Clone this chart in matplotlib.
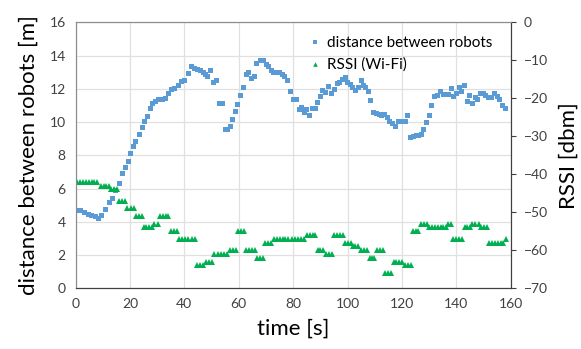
import matplotlib
matplotlib.use("Agg")
import matplotlib.pyplot as plt

plt.rcParams["font.family"] = ["Lato", "DejaVu Sans"]

# distance between robots [m] vs time [s]
t_dist = [0.2, 1.7, 3.0, 4.5, 5.7, 7.0, 8.2, 9.4, 11.0, 12.2, 13.4, 14.6, 15.9, 17.0, 18.3, 19.3,
          20.2, 21.2, 22.0, 23.2, 24.4, 25.3, 26.3, 27.3, 28.2, 29.3, 30.5, 31.7, 32.9, 33.9, 35.1,
          36.3, 37.5, 38.7, 40.0, 41.3, 42.5, 43.7, 44.7, 45.6, 46.8, 47.7, 48.4, 49.6, 50.5, 51.7,
          52.6, 53.8, 54.9, 55.8, 56.8, 57.5, 58.5, 59.5, 60.5, 61.5, 62.5, 63.5, 64.4, 65.7, 66.4,
          67.7, 68.9, 69.9, 70.9, 71.9, 72.6, 73.6, 74.8, 75.8, 76.8, 77.8, 79.0, 79.8, 81.0, 82.0,
          82.9, 83.9, 84.9, 85.9, 86.9, 88.1, 88.8, 89.8, 90.8, 91.8, 93.0, 94.0, 94.9, 96.0, 97.0,
          97.9, 98.9, 99.9, 100.9, 101.8, 102.8, 103.8, 104.8, 105.7, 106.5, 107.4, 108.2, 109.2,
          110.4, 111.4, 112.4, 113.4, 114.4, 115.3, 116.3, 117.5, 118.5, 119.8, 121.0, 122.0, 122.9,
          124.0, 125.2, 126.1, 127.1, 127.9, 128.8, 129.8, 130.8, 131.8, 132.8, 134.0, 135.0, 136.0,
          136.9, 137.9, 138.9, 139.9, 140.9, 141.8, 142.8, 143.8, 144.8, 145.8, 146.7, 147.7, 148.7,
          149.7, 150.7, 151.7, 152.6, 153.9, 154.8, 155.8, 156.8, 158.0]
distance = [4.68, 4.72, 4.60, 4.48, 4.40, 4.32, 4.20, 4.40, 4.76, 5.20, 5.44, 5.92, 6.36, 6.92, 7.28, 7.64,
            8.12, 8.56, 8.88, 9.28, 9.68, 10.04, 10.36, 10.84, 11.16, 11.28, 11.40, 11.36, 11.44, 11.76, 11.96,
            12.04, 12.24, 12.48, 12.56, 12.96, 13.36, 13.24, 13.20, 13.12, 13.04, 12.88, 12.76, 13.16, 12.44, 12.56,
            11.16, 11.16, 9.60, 9.60, 9.76, 10.16, 10.68, 11.08, 11.64, 12.12, 12.88, 13.00, 12.68, 12.80, 13.56,
            13.72, 13.72, 13.48, 13.40, 13.12, 13.00, 13.00, 13.04, 12.88, 12.80, 12.56, 11.88, 11.36, 11.36, 10.78,
            10.90, 10.58, 10.80, 10.40, 10.84, 10.84, 11.20, 11.56, 11.92, 11.80, 12.16, 11.76, 12.00, 12.36, 12.40,
            12.60, 12.72, 12.44, 12.28, 12.12, 11.92, 12.08, 12.52, 12.20, 12.08, 11.88, 11.32, 10.60,
            10.52, 10.48, 10.40, 10.48, 10.32, 10.04, 9.92, 9.76, 10.04, 10.08, 10.04, 10.40, 9.12,
            9.16, 9.20, 9.24, 9.28, 9.56, 10.00, 10.40, 11.04, 11.56, 11.64, 11.84, 11.68, 11.68,
            11.68, 12.04, 11.56, 11.76, 12.08, 11.88, 12.24, 11.28, 11.64, 11.12, 11.52, 11.36, 11.76,
            11.72, 11.64, 11.48, 11.48, 11.76, 11.56, 11.40, 11.00, 10.84]

# RSSI (Wi-Fi) [dbm] vs time [s]
t_rssi = [0.5, 1.6, 2.6, 3.7, 4.8, 5.9, 6.9, 8.0, 9.3, 10.3, 11.2, 12.2, 13.2, 14.3, 15.4,
          16.1, 17.2, 18.3, 19.0, 20.3, 21.5, 22.1, 23.3, 24.4, 25.0, 26.0, 27.0, 28.0, 29.0, 30.2,
          31.1, 32.1, 33.1, 34.1, 35.0, 36.2, 37.3, 38.0, 39.2, 40.4, 41.5, 42.7, 43.8,
          44.8, 45.9, 46.9, 47.9, 49.0, 50.0, 51.0, 52.2, 53.4, 54.6, 55.8, 56.8, 57.9, 59.0,
          59.8, 60.9, 62.0, 62.7, 63.8, 64.8, 65.9, 66.7, 67.8, 68.9, 69.6, 70.7, 71.8,
          72.8, 73.9, 75.0, 76.1, 77.2, 78.3, 79.5, 80.6, 81.7, 82.8, 83.9,
          85.0, 86.1, 87.2, 88.2, 89.0, 90.0, 91.0, 92.0, 93.1, 94.2, 95.0, 96.1, 97.1, 98.2,
          99.2, 100.2, 101.1, 102.0, 102.9, 103.8, 104.8, 106.0, 107.2, 108.1, 109.0, 109.9,
          110.9, 111.9, 112.9, 113.9, 115.0, 116.1, 117.0, 118.0, 119.0, 120.0, 121.0, 122.1, 123.2,
          124.1, 125.1, 126.1, 127.1, 128.1, 129.1, 130.1, 131.1, 132.1, 133.2, 134.2, 135.2, 136.2,
          137.0, 137.9, 138.9, 140.0, 141.1, 142.2, 143.1, 144.0, 144.9, 145.8, 147.0, 148.2,
          149.1, 150.1, 151.2, 152.2, 153.2, 154.2, 155.2, 156.3, 157.3, 158.2]
rssi = [-42, -42, -42, -42, -42, -42, -42, -42, -43, -43, -43, -43, -44, -44, -44,
        -47, -47, -47, -49, -49, -49, -51, -51, -51, -54, -54, -54, -54, -53, -53,
        -51, -51, -51, -51, -55, -55, -55, -57, -57, -57, -57, -57, -57,
        -64, -64, -64, -63, -63, -63, -61, -61, -61, -61, -61, -60, -60, -60,
        -55, -55, -55, -60, -60, -60, -60, -62, -62, -62, -58, -58, -58,
        -57, -57, -57, -57, -57, -57, -57, -57, -57, -57, -57,
        -56, -56, -56, -56, -60, -60, -60, -61, -61, -61, -56, -56, -56, -56,
        -58, -58, -58, -59, -59, -59, -60, -60, -60, -62, -62, -62,
        -60, -60, -60, -66, -66, -66, -63, -63, -63, -63, -64, -64, -64,
        -55, -55, -55, -53, -53, -53, -54, -54, -54, -54, -54, -54, -54,
        -53, -53, -57, -57, -57, -57, -54, -54, -54, -53, -53, -53,
        -54, -54, -54, -58, -58, -58, -58, -58, -58, -57]

blue = "#5b9bd5"
green = "#00b050"
grid_c = "#e0e0e0"

fig = plt.figure(figsize=(5.81, 3.49), dpi=100)
ax = fig.add_axes([0.13, 0.174, 0.749, 0.762])
ax2 = ax.twinx()

ax.plot(t_dist, distance, linestyle="none", marker="s", markersize=3.6,
        color=blue, markeredgewidth=0, label="distance between robots")
ax2.plot(t_rssi, rssi, linestyle="none", marker="^", markersize=4.2,
         color=green, markeredgewidth=0, label="RSSI (Wi-Fi)")

ax.set_xlim(0, 160)
ax.set_ylim(0, 16)
ax.set_xticks(range(0, 161, 20))
ax.set_yticks(range(0, 17, 2))
ax2.set_ylim(-70, 0)
ax2.set_yticks(range(-70, 1, 10))

ax.grid(True, color=grid_c, linewidth=0.9)
ax.set_axisbelow(True)

ax.tick_params(axis="both", length=0, labelsize=10, colors="#404040", pad=7)
ax2.tick_params(axis="y", length=3.5, width=0.8, direction="out", labelsize=10,
                labelcolor="#404040", color="#404040", pad=6)

for s in ["top", "left"]:
    ax.spines[s].set_color("#8c8c8c")
    ax2.spines[s].set_color("#8c8c8c")
for s in ["bottom", "right"]:
    ax.spines[s].set_color("#404040")
    ax2.spines[s].set_color("#404040")

ax.set_xlabel("time [s]", fontsize=16, labelpad=6)
ax.set_ylabel("distance between robots [m]", fontsize=16, labelpad=8)
ax2.set_ylabel("RSSI [dbm]", fontsize=16, labelpad=8)

h1, l1 = ax.get_legend_handles_labels()
h2, l2 = ax2.get_legend_handles_labels()
ax2.legend(h1 + h2, l1 + l2, loc="upper right", bbox_to_anchor=(0.99, 1.0),
           frameon=False, fontsize=11, handlelength=0.6, handletextpad=0.5,
           labelspacing=0.5, markerscale=0.8)

fig.savefig("out.png", dpi=100)
